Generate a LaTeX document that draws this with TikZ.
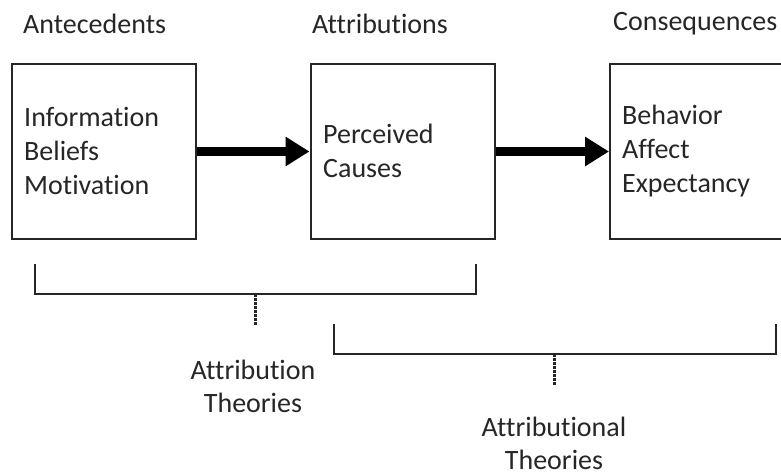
\documentclass[tikz,border=0pt]{standalone}
\usepackage{fontspec}
\setmainfont{Carlito}[Ligatures=NoCommon]
\usetikzlibrary{arrows.meta}
\begin{document}
\begin{tikzpicture}[x=1pt,y=-1pt,
  every node/.style={text=black!85, font=\fontsize{28}{34}\selectfont},
  stagebox/.style={draw=black!85, line width=2pt, minimum width=184pt, minimum height=175pt, inner sep=0pt},
  bodytext/.style={align=left, anchor=west, inner sep=0pt},
  head/.style={anchor=west, inner sep=0pt},
  bigarrow/.style={draw=black, line width=8.5pt, -{Triangle[length=24pt,width=28pt]}},
  bracket/.style={draw=black!85, line width=2pt},
  stem/.style={draw=black!85, line width=3pt, dash pattern=on 3pt off 1pt},
  label/.style={align=center, inner sep=0pt, font=\fontsize{28}{33}\selectfont}]
\useasboundingbox (0,0) rectangle (781,474);
\clip (0,0) rectangle (781,474);
% headers
\node[head] (h1) at (23,24) {Antecedents};
\node[head] (h2) at (312,24) {Attributions};
\node[head] (h3) at (613,24) {Consequences};
% boxes
\node[stagebox] (b1) at (104,151.5) {};
\node[stagebox] (b2) at (402.5,151.5) {};
\node[stagebox] (b3) at (702,151.5) {};
\node[bodytext] (t1) at (24,151) {Information\\Beliefs\\Motivation};
\node[bodytext] (t2) at (323,151) {Perceived\\Causes};
\node[bodytext] (t3) at (622,151) {Behavior\\Affect\\Expectancy};
% arrows
\draw[bigarrow] (b1.east) -- (b2.west);
\draw[bigarrow] (b2.east) -- (b3.west);
% bracket 1
\coordinate (p1a) at (35,264);
\coordinate (p1b) at (35,294);
\coordinate (p1c) at (476,294);
\coordinate (p1d) at (476,264);
\coordinate (s1a) at (255,294);
\coordinate (s1b) at (255,326);
\draw[bracket] (p1a) -- (p1b) -- (p1c) -- (p1d);
\draw[stem] (s1a) -- (s1b);
\node[label] (l1) at (253,386) {Attribution\\Theories};
% bracket 2
\coordinate (p2a) at (334,324);
\coordinate (p2b) at (334,354);
\coordinate (p2c) at (776,354);
\coordinate (p2d) at (776,324);
\coordinate (s2a) at (554,354);
\coordinate (s2b) at (554,386);
\draw[bracket] (p2a) -- (p2b) -- (p2c) -- (p2d);
\draw[stem] (s2a) -- (s2b);
\node[label] (l2) at (554,443) {Attributional\\Theories};
\end{tikzpicture}
\end{document}
